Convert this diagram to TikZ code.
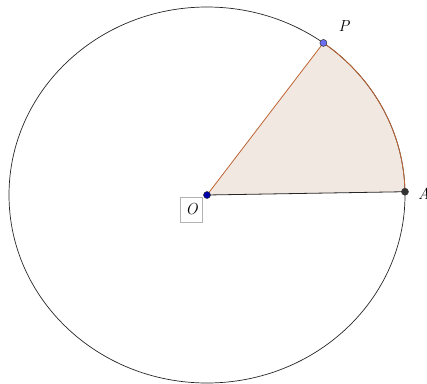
\documentclass[tikz,border=0pt]{standalone}
\usepackage{fontspec}
\begin{document}
\begin{tikzpicture}[x=1pt,y=-1pt,
  lbl/.style={font=\fontsize{16}{18}\selectfont\itshape, inner sep=0pt},
  pt/.style={circle, inner sep=0pt, minimum size=7pt, draw=black!80, line width=0.5pt}]
\useasboundingbox (0,0) rectangle (427,383);
\definecolor{sectorfill}{RGB}{242,232,226}
\definecolor{sectoredge}{RGB}{190,100,50}
\definecolor{ptO}{RGB}{0,0,170}
\definecolor{ptP}{RGB}{110,110,240}
\definecolor{ptA}{RGB}{50,50,50}
\coordinate (O) at (207,195);
\coordinate (A) at ({207+198*cos(1)},{195-188*sin(1)});
\coordinate (P) at ({207+198*cos(54)},{195-188*sin(54)});
% sector
\fill[sectorfill] (O) -- (A) arc[start angle=-1, end angle=-54, x radius=198, y radius=188] -- cycle;
% circle
\draw[black!85, line width=0.7pt] (O) ellipse[x radius=198, y radius=188];
% sector edges
\draw[sectoredge, line width=0.8pt] (A) arc[start angle=-1, end angle=-54, x radius=198, y radius=188];
\draw[sectoredge, line width=0.8pt] (O) -- (P);
\draw[black!85, line width=0.8pt] (O) -- (A);
% points
\node[pt, fill=ptO] (nO) at (O) {};
\node[pt, fill=ptP] (nP) at (P) {};
\node[pt, fill=ptA] (nA) at (A) {};
% labels
\node[draw=black!30, minimum width=22pt, minimum height=25pt, inner sep=0pt, font=\fontsize{16}{18}\selectfont\itshape] (lO) at (191.5,209.5) {O};
\node[lbl] (lP) at (344,26) {P};
\node[lbl, anchor=west] (lA) at (418,194) {A};
\end{tikzpicture}
\end{document}
